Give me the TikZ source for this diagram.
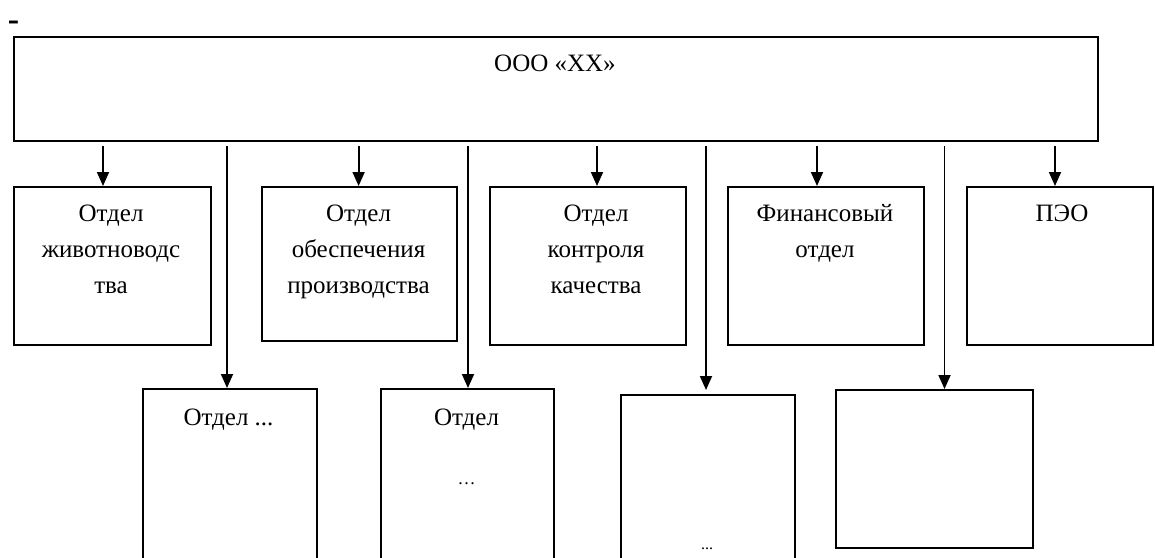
\documentclass[tikz,border=0pt]{standalone}
\usepackage{fontspec}
\setmainfont{Liberation Serif}
\usetikzlibrary{arrows.meta}
\tikzset{
  box/.style={draw=black, line width=2.2pt, inner sep=0pt, anchor=north west},
  arr/.style={draw=black, line width=1.8pt, -{Triangle[length=14pt,width=12pt]}},
  lbl/.style={inner sep=0pt, anchor=base, align=center, font=\fontsize{25}{36}\selectfont},
}
\begin{document}
\begin{tikzpicture}[x=1pt,y=1pt]
\clip (0,0) rectangle (1155,-557);
\fill[white] (0,0) rectangle (1155,-557);
% stray dash
\node[lbl, font=\fontsize{34}{36}\selectfont\bfseries] (dash) at (13.5,-30) {-};
% top box
\node[box, minimum width=1084.4pt, minimum height=104pt] (top) at (12.6,-36) {};
\node[lbl] (ttop) at (555,-71) {ООО «ХХ»};
% first row
\node[box, minimum width=197.1pt, minimum height=158pt] (b1) at (12.6,-186) {};
\node[box, minimum width=195pt, minimum height=154pt] (b2) at (261,-186) {};
\node[box, minimum width=196pt, minimum height=158pt] (b3) at (489,-186) {};
\node[box, minimum width=196pt, minimum height=158pt] (b4) at (727,-186) {};
\node[box, minimum width=186pt, minimum height=158pt] (b5) at (966,-186) {};
% multi-line nodes: base anchor is the baseline of the last line
\node[lbl] (t1) at (111,-293) {Отдел\\животноводс\\тва};
\node[lbl] (t2) at (358.5,-293) {Отдел\\обеспечения\\производства};
\node[lbl] (t3) at (596,-293) {Отдел\\контроля\\качества};
\node[lbl] (t4) at (825,-257) {Финансовый\\отдел};
\node[lbl] (t5) at (1062,-221) {ПЭО};
% second row
\node[box, minimum width=174pt, minimum height=190pt] (b6) at (141.6,-388) {};
\node[box, minimum width=173pt, minimum height=190pt] (b7) at (380,-388) {};
\node[box, minimum width=174pt, minimum height=190pt] (b8) at (620,-394) {};
\node[box, minimum width=197pt, minimum height=158pt] (b9) at (835,-389) {};
\node[lbl] (t6) at (228.5,-425) {Отдел ...};
\node[lbl] (t7) at (466.5,-425) {Отдел};
\node[lbl, font=\fontsize{18}{20}\selectfont] (t7b) at (466.5,-484) {…};
\node[lbl, font=\fontsize{16}{20}\selectfont] (t8) at (707,-549) {...};
% connector x positions
\coordinate (a1) at (103,0);
\coordinate (a2) at (358.6,0);
\coordinate (a3) at (597,0);
\coordinate (a4) at (817,0);
\coordinate (a5) at (1055,0);
\coordinate (l1) at (227,0);
\coordinate (l2) at (468,0);
\coordinate (l3) at (706,0);
\coordinate (l4) at (944.5,0);
% short arrows
\draw[arr] ([yshift=-4pt]top.south -| a1) -- (b1.north -| a1);
\draw[arr] ([yshift=-4pt]top.south -| a2) -- (b2.north -| a2);
\draw[arr] ([yshift=-4pt]top.south -| a3) -- (b3.north -| a3);
\draw[arr] ([yshift=-4pt]top.south -| a4) -- (b4.north -| a4);
\draw[arr] ([yshift=-4pt]top.south -| a5) -- (b5.north -| a5);
% long arrows
\draw[arr] ([yshift=-4pt]top.south -| l1) -- (b6.north -| l1);
\draw[arr] ([yshift=-4pt]top.south -| l2) -- (b7.north -| l2);
\draw[arr] ([yshift=-4pt]top.south -| l3) -- ([yshift=4pt]b8.north -| l3);
\draw[arr] ([yshift=-4pt]top.south -| l4) -- (b9.north -| l4);
\end{tikzpicture}
\end{document}
